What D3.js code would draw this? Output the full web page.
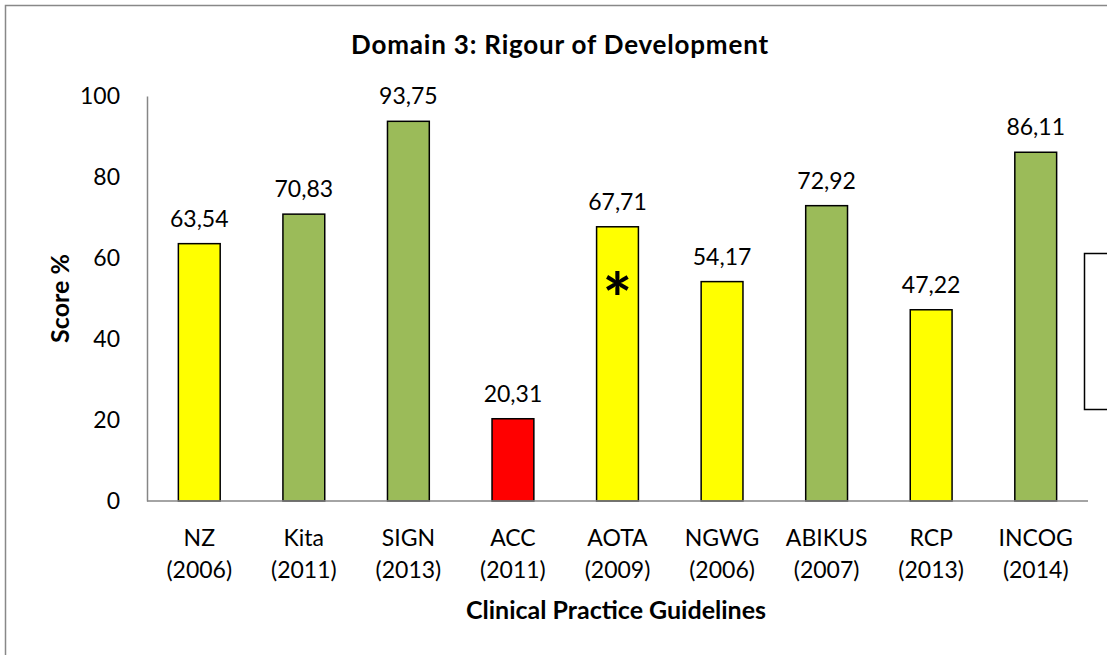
<!DOCTYPE html>
<html>
<head>
<meta charset="utf-8">
<script src="https://cdn.jsdelivr.net/npm/d3@7"></script>
<style>
  body { margin: 0; background: #fff; }
  text { font-family: Lato, "Open Sans", sans-serif; fill: #000; }
</style>
</head>
<body>
<svg id="canvas" width="1107" height="655"></svg>
<script>
let guidelines = ['NZ', 'Kita', 'SIGN', 'ACC', 'AOTA', 'NGWG', 'ABIKUS', 'RCP', 'INCOG'];
let years = ['(2006)', '(2011)', '(2013)', '(2011)', '(2009)', '(2006)', '(2007)', '(2013)', '(2014)'];
let scores = [63.54, 70.83, 93.75, 20.31, 67.71, 54.17, 72.92, 47.22, 86.11];
let ratings = ['mid', 'high', 'high', 'low', 'mid', 'mid', 'high', 'mid', 'high'];
let starred = ['AOTA'];
let yTicks = [0, 20, 40, 60, 80, 100];

let colours = { high: '#9bbb59', mid: '#ffff00', low: '#ff0000' };

let canvas = d3.select('#canvas');

// outer chart border (only top and left visible in frame)
canvas.append('rect')
  .attr('x', 5.5).attr('y', 5.5)
  .attr('width', 1200).attr('height', 700)
  .attr('fill', 'none').attr('stroke', '#888').attr('stroke-width', 1.5);

let plotLeft = 147, plotRight = 1088, plotTop = 96, plotBottom = 501;

let x = d3.scaleBand().domain(guidelines).range([plotLeft, plotRight]).paddingInner(0.6).paddingOuter(0.3);
let y = d3.scaleLinear().domain([0, 100]).range([plotBottom, plotTop]);

let rows = guidelines.map((g, i) => ({ name: g, year: years[i], value: scores[i], rating: ratings[i] }));

// y axis
let yAxis = canvas.append('g')
  .attr('transform', 'translate(' + plotLeft + ',0)')
  .call(d3.axisLeft(y).tickValues(yTicks).tickSize(0).tickPadding(27));
yAxis.select('.domain').attr('stroke', '#868686').attr('stroke-width', 1.5);
yAxis.selectAll('text').style('font-size', '23px').style('font-family', 'Lato, sans-serif');

// bars
canvas.selectAll('rect.bar')
  .data(rows)
  .enter()
  .append('rect')
  .attr('class', 'bar')
  .attr('x', (d) => x(d.name))
  .attr('y', (d) => y(d.value))
  .attr('width', x.bandwidth())
  .attr('height', (d) => y(0) - y(d.value))
  .attr('fill', (d) => colours[d.rating])
  .attr('stroke', '#000')
  .attr('stroke-width', 1.5);

// x axis line
canvas.append('line')
  .attr('x1', plotLeft).attr('x2', plotRight)
  .attr('y1', plotBottom).attr('y2', plotBottom)
  .attr('stroke', '#868686').attr('stroke-width', 1.5);

// value labels
canvas.selectAll('text.value')
  .data(rows)
  .enter()
  .append('text')
  .attr('class', 'value')
  .attr('x', (d) => x(d.name) + x.bandwidth() / 2)
  .attr('y', (d) => y(d.value) - 17)
  .attr('text-anchor', 'middle')
  .style('font-size', '23px')
  .text((d) => d.value.toFixed(2).replace('.', ','));

// star marker
canvas.selectAll('text.star')
  .data(rows.filter((d) => starred.includes(d.name)))
  .enter()
  .append('text')
  .attr('class', 'star')
  .attr('x', (d) => x(d.name) + x.bandwidth() / 2)
  .attr('y', 325)
  .attr('text-anchor', 'middle')
  .style('font-size', '70px')
  .style('font-weight', 'bold')
  .text('*');

// category labels
let cat = canvas.selectAll('g.cat')
  .data(rows)
  .enter()
  .append('g')
  .attr('class', 'cat')
  .attr('transform', (d) => 'translate(' + (x(d.name) + x.bandwidth() / 2) + ',0)');
cat.append('text').attr('y', 546).attr('text-anchor', 'middle').style('font-size', '23px').text((d) => d.name);
cat.append('text').attr('y', 578).attr('text-anchor', 'middle').style('font-size', '23px').text((d) => d.year);

// titles
canvas.append('text')
  .attr('x', 560).attr('y', 54)
  .attr('text-anchor', 'middle')
  .style('font-size', '26px').style('font-weight', 'bold')
  .style('letter-spacing', '0.8px')
  .text('Domain 3: Rigour of Development');

canvas.append('text')
  .attr('x', 616).attr('y', 619)
  .attr('text-anchor', 'middle')
  .style('font-size', '25px').style('font-weight', 'bold')
  .text('Clinical Practice Guidelines');

canvas.append('text')
  .attr('transform', 'translate(69,' + ((plotTop + plotBottom) / 2) + ') rotate(-90)')
  .attr('text-anchor', 'middle')
  .style('font-size', '25px').style('font-weight', 'bold')
  .text('Score %');

// legend box, cut off at the right edge
canvas.append('rect')
  .attr('x', 1084.5).attr('y', 253.5)
  .attr('width', 100).attr('height', 156)
  .attr('fill', '#fff').attr('stroke', '#000').attr('stroke-width', 1.5);
</script>
</body>
</html>
